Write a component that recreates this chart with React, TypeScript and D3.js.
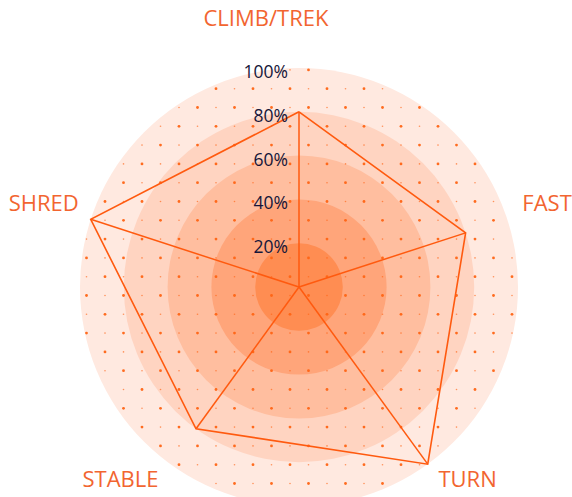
import * as d3 from "d3";

const width = 572;
const height = 497;

const axes = ["CLIMB/TREK", "FAST", "TURN", "STABLE", "SHRED"];
const values = [80, 80, 100, 80, 100];
const ticks = [20, 40, 60, 80, 100];
const tickLabels = ["20%", "40%", "60%", "80%", "100%"];

// ring fills, outermost first
const ringColors = ["#ffe9e0", "#ffd4c1", "#ffbe9f", "#ffa57a", "#ff8d52"];
// little tweaks so labels sit where the original puts them
const labelNudge: [number, number][] = [
  [-33, -22],
  [-4, -2],
  [-1, 7],
  [0, 7],
  [7, -2],
];

const cx = 299;
const cy = 287;
const R = 219;
const orange = "#ff5a0f";
const labelColor = "#f26530";

export default function App() {
  const r = d3.scaleLinear().domain([0, 100]).range([0, R]);
  const angle = d3
    .scalePoint<string>()
    .domain(axes)
    .range([0, (2 * Math.PI * (axes.length - 1)) / axes.length]);

  const pt = (a: number, rad: number): [number, number] => [
    cx + rad * Math.sin(a),
    cy - rad * Math.cos(a),
  ];

  const verts = axes.map((k, i) => pt(angle(k)!, r(values[i])));
  const poly = d3.line()([...verts, verts[0]]) ?? "";

  // dot grid
  const sx = 18.5;
  const sy = 18.8;
  const x0 = 290;
  const y0 = 276.7;
  const dots: { x: number; y: number; big: boolean }[] = [];
  for (let i = -13; i <= 13; i++) {
    for (let j = -13; j <= 13; j++) {
      const x = x0 + i * sx;
      const y = y0 + j * sy;
      if ((x - cx) ** 2 + (y - cy) ** 2 > (R - 1) ** 2) continue;
      dots.push({ x, y, big: (i + j) % 2 === 0 });
    }
  }

  return (
    <svg
      width={width}
      height={height}
      style={{ position: "absolute", left: 0, top: 0, display: "block" }}
      fontFamily="'Open Sans', sans-serif"
    >
      {[...ticks].reverse().map((t, i) => (
        <circle key={t} cx={cx} cy={cy} r={r(t)} fill={ringColors[i]} />
      ))}
      {dots.map((d, i) => (
        <circle
          key={i}
          cx={d.x}
          cy={d.y}
          r={d.big ? 1.4 : 0.8}
          fill="#ff6414"
          opacity={d.big ? 0.95 : 0.65}
        />
      ))}
      {verts.map((v, i) => (
        <line key={i} x1={cx} y1={cy} x2={v[0]} y2={v[1]} stroke={orange} strokeWidth={1.5} />
      ))}
      <path d={poly} fill="none" stroke={orange} strokeWidth={1.6} strokeLinejoin="miter" />
      {ticks.map((t, i) => (
        <text
          key={t}
          x={cx - 11}
          y={cy - r(t) + 3}
          textAnchor="end"
          dominantBaseline="central"
          fontSize={17.5}
          fill="#16163a"
        >
          {tickLabels[i]}
        </text>
      ))}
      {axes.map((k, i) => {
        const a = angle(k)!;
        const [x, y] = pt(a, R + 20);
        const s = Math.sin(a);
        const anchor = Math.abs(s) < 0.01 ? "middle" : s > 0 ? "start" : "end";
        return (
          <text
            key={k}
            x={x + labelNudge[i][0]}
            y={y + labelNudge[i][1]}
            textAnchor={anchor}
            fontSize={22}
            fill={labelColor}
          >
            {k}
          </text>
        );
      })}
    </svg>
  );
}
